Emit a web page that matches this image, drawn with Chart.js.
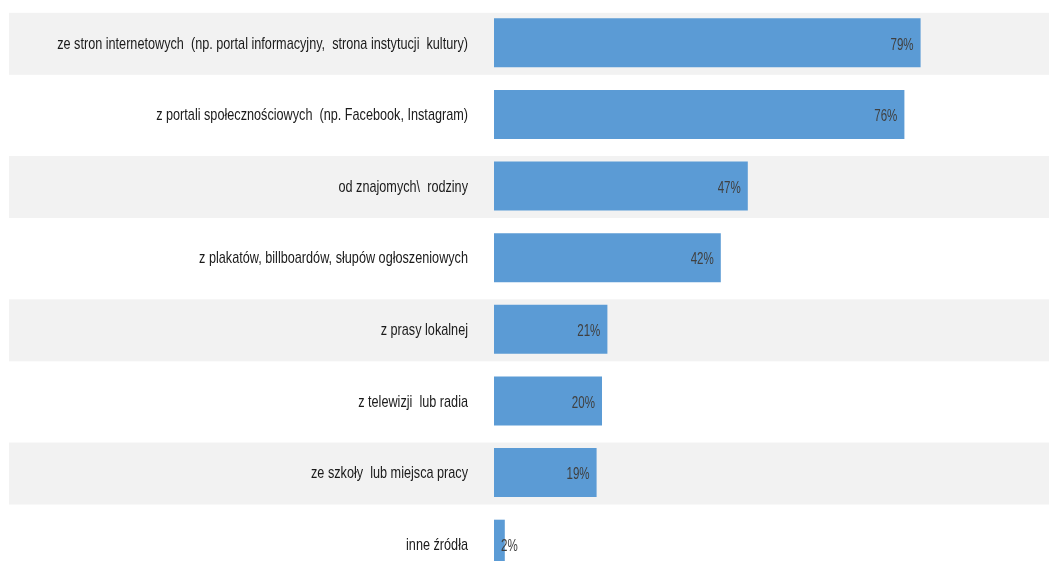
<!DOCTYPE html>
<html>
<head>
<meta charset="utf-8">
<script src="https://cdn.jsdelivr.net/npm/chart.js@4/dist/chart.umd.min.js"></script>
<style>
  html, body { margin: 0; padding: 0; background: #fff; overflow: hidden; }
  canvas { display: block; }
</style>
</head>
<body>
<canvas id="chart" width="1049" height="580"></canvas>
<script>
const categories = [
    'ze stron internetowych  (np. portal informacyjny,  strona instytucji  kultury)',
    'z portali społecznościowych  (np. Facebook, Instagram)',
    'od znajomych\\  rodziny',
    'z plakatów, billboardów, słupów ogłoszeniowych',
    'z prasy lokalnej',
    'z telewizji  lub radia',
    'ze szkoły  lub miejsca pracy',
    'inne źródła'
];
const shares = [79, 76, 47, 42, 21, 20, 19, 2];
const axisMin = 0;
const axisMax = 100;

const FONT = "'Liberation Sans', Arial, sans-serif";

// gray bands behind every other row
const rowBands = {
    id: 'rowBands',
    beforeDatasetsDraw(chart) {
        const { ctx } = chart;
        const yScale = chart.scales.y;
        ctx.save();
        ctx.fillStyle = '#f2f2f2';
        categories.forEach((_, i) => {
            if (i % 2 !== 0) return;
            const y = yScale.getPixelForValue(i);
            ctx.fillRect(9, y - 30, chart.width - 9, 62);
        });
        ctx.restore();
    }
};

// squeeze text horizontally to imitate a narrow face
function narrowText(ctx, text, x, y, squeeze) {
    ctx.save();
    ctx.translate(x, y);
    ctx.scale(squeeze, 1);
    ctx.fillText(text, 0, 0);
    ctx.restore();
}

// category names, placed on the y scale ticks
const categoryLabels = {
    id: 'categoryLabels',
    afterDraw(chart) {
        const { ctx } = chart;
        const yScale = chart.scales.y;
        ctx.save();
        ctx.font = '17px ' + FONT;
        ctx.fillStyle = '#1a1a1a';
        ctx.textAlign = 'right';
        ctx.textBaseline = 'middle';
        yScale.ticks.forEach((tick, i) => {
            const label = yScale.getLabelForValue(tick.value);
            narrowText(ctx, label, chart.chartArea.left - 26, yScale.getPixelForTick(i) + 1, 0.745);
        });
        ctx.restore();
    }
};

// value labels at the inner end of each bar
const valueLabels = {
    id: 'valueLabels',
    afterDatasetsDraw(chart) {
        const { ctx } = chart;
        const meta = chart.getDatasetMeta(0);
        const squeeze = 0.68;
        ctx.save();
        ctx.font = '17px ' + FONT;
        ctx.fillStyle = '#404040';
        ctx.textAlign = 'right';
        ctx.textBaseline = 'middle';
        meta.data.forEach((bar, i) => {
            const text = shares[i] + '%';
            const w = ctx.measureText(text).width * squeeze;
            const x = Math.max(bar.x - 7, bar.base + 7 + w);
            narrowText(ctx, text, x, bar.y + 2, squeeze);
        });
        ctx.restore();
    }
};

new Chart(document.getElementById('chart'), {
    type: 'bar',
    data: {
        labels: categories,
        datasets: [{
            data: shares,
            backgroundColor: '#5b9bd5',
            borderWidth: 0,
            categoryPercentage: 1,
            barPercentage: 0.684
        }]
    },
    options: {
        indexAxis: 'y',
        responsive: false,
        animation: false,
        layout: { padding: { top: 7, right: 15, bottom: 0, left: 0 } },
        plugins: {
            legend: { display: false },
            tooltip: { enabled: false }
        },
        scales: {
            x: {
                display: false,
                min: axisMin,
                max: axisMax
            },
            y: {
                grid: { display: false, drawTicks: false },
                border: { display: false },
                ticks: { display: false, autoSkip: false },
                afterFit(scale) {
                    scale.width = 494;
                }
            }
        }
    },
    plugins: [rowBands, valueLabels, categoryLabels]
});
</script>
</body>
</html>
